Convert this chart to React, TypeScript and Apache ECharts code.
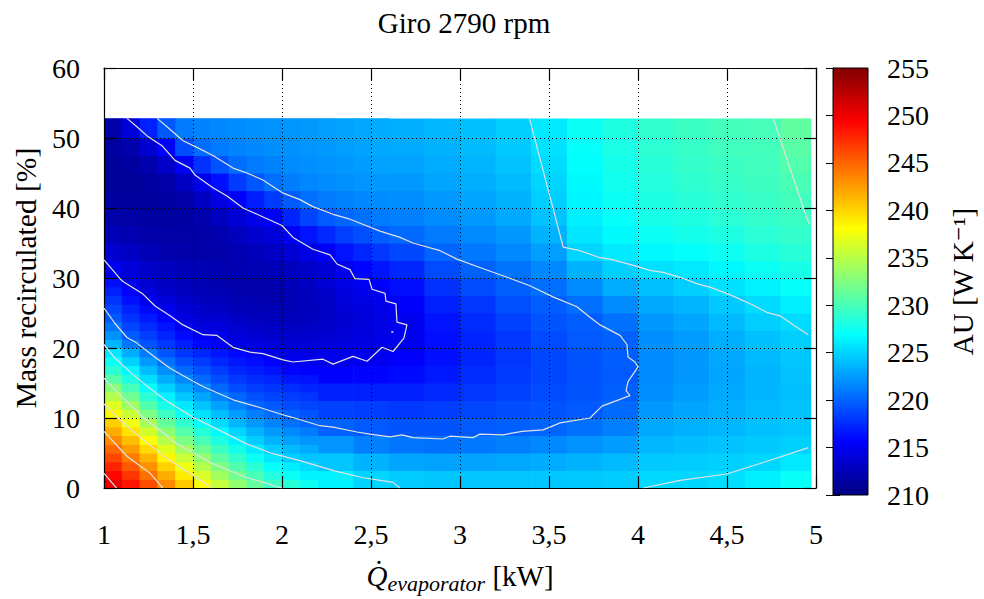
import React, { useEffect, useRef } from 'react';
import * as echarts from 'echarts';

const FONT = '"Liberation Serif", "DejaVu Serif", serif';

const titleText = 'Giro 2790 rpm';
const yName = 'Mass recirculated [%]';
const cbName = 'AU [W K\u207B\u00B9]';

// ---- base grid (coarse) ----
const xEdges = [1.0, 1.2, 1.4, 1.6, 1.8, 2.0, 2.2, 2.4, 2.6, 2.8, 3.0, 3.2, 3.4, 3.6, 3.8, 4.0, 4.2, 4.4, 4.6, 4.8, 4.97];
const yEdges = [0, 2.5, 5, 7.5, 10, 12.5, 15, 17.5, 20, 22.5, 25, 27.5, 30, 32.5, 35, 37.5, 40, 42.5, 45, 47.5, 50, 52.8];
// AU values, one array per column (bottom to top)
const auColumns = [
  [248, 245, 242, 239, 235.5, 232, 228, 223.6, 220.8, 218.7, 217.2, 215.8, 214.1, 213.1, 212.3, 211.8, 211.5, 211.5, 211.8, 212.3, 213.5],
  [243, 239, 235.5, 232, 228.5, 225.5, 222.2, 219.8, 218.2, 216.5, 214.8, 213.6, 212.7, 212.1, 211.8, 211.8, 212.1, 212.7, 213.6, 214.8, 218.3],
  [237, 233, 229.5, 226.5, 224.5, 221.5, 219.3, 217.5, 215.8, 214.5, 213.4, 212.6, 212.1, 211.9, 212.0, 212.4, 213.1, 214.2, 215.7, 219.7, 221.3],
  [234, 230.5, 227, 224.4, 221.6, 219.4, 217.8, 216.2, 214.7, 213.6, 212.8, 212.3, 212.0, 212.0, 212.4, 213.3, 214.8, 217.0, 220.1, 221.4, 221.8],
  [231, 227.2, 224.4, 222, 220, 218.3, 216.6, 215.2, 214.0, 213.1, 212.5, 212.2, 212.2, 212.6, 213.6, 215.0, 217.5, 219.9, 221.2, 221.8, 222.0],
  [228.3, 225.1, 223.0, 220.8, 219.2, 217.6, 216.0, 214.6, 213.6, 212.9, 212.5, 212.4, 212.8, 213.8, 215.7, 218.2, 220.0, 221.2, 221.8, 222.1, 222.3],
  [226.3, 224.3, 222.2, 219.9, 218.5, 217.0, 215.6, 214.7, 214.0, 213.6, 213.5, 213.8, 214.6, 216.1, 218.2, 219.9, 221.0, 221.8, 222.2, 222.5, 222.7],
  [225.0, 223.5, 221.2, 219.6, 218.3, 217.0, 215.8, 214.9, 214.3, 214.0, 214.2, 214.9, 216.0, 217.5, 219.4, 220.6, 221.5, 222.1, 222.5, 222.8, 223.0],
  [224.6, 222.9, 220.8, 219.3, 218.1, 217.0, 216.0, 215.4, 215.0, 215.0, 215.4, 216.2, 217.3, 218.8, 220.3, 221.2, 221.9, 222.4, 222.8, 223.1, 223.3],
  [224.4, 222.7, 220.6, 219.3, 218.3, 217.4, 216.7, 216.3, 216.2, 216.4, 217.0, 217.8, 218.9, 220.0, 221.0, 221.8, 222.4, 222.9, 223.2, 223.5, 223.7],
  [224.3, 222.8, 220.9, 219.6, 218.7, 218.0, 217.5, 217.2, 217.2, 217.5, 218.0, 218.9, 219.9, 220.9, 221.7, 222.4, 222.9, 223.3, 223.6, 223.9, 224.1],
  [224.3, 223.0, 221.2, 219.8, 219.0, 218.5, 218.2, 218.0, 218.1, 218.5, 219.1, 219.8, 220.7, 221.6, 222.3, 223.0, 223.5, 223.9, 224.2, 224.5, 224.7],
  [224.4, 223.2, 221.6, 220.0, 219.3, 218.9, 218.7, 218.7, 218.9, 219.3, 219.7, 220.5, 221.6, 222.6, 223.5, 224.2, 224.7, 225.0, 225.3, 225.6, 225.9],
  [224.5, 223.5, 222.1, 220.6, 219.6, 219.3, 219.2, 219.3, 219.6, 219.7, 220.5, 221.8, 223.5, 225.0, 225.8, 226.2, 226.5, 226.7, 226.9, 227.1, 227.3],
  [224.6, 223.8, 222.5, 221.2, 220.3, 219.8, 219.6, 219.7, 219.9, 220.6, 221.8, 223.2, 224.8, 226.0, 226.7, 227.1, 227.4, 227.6, 227.8, 228.0, 228.2],
  [225.2, 224.5, 223.7, 223.0, 222.4, 221.9, 221.7, 221.7, 221.9, 222.3, 223.0, 224.1, 225.5, 226.6, 227.3, 227.8, 228.1, 228.4, 228.6, 228.8, 229.0],
  [225.1, 224.6, 224.0, 223.4, 222.9, 222.5, 222.3, 222.3, 222.5, 222.9, 223.6, 224.7, 225.9, 227.0, 227.7, 228.2, 228.6, 228.9, 229.1, 229.3, 229.5],
  [225.4, 224.8, 224.2, 223.7, 223.3, 223.0, 222.9, 223.0, 223.3, 223.8, 224.5, 225.5, 226.6, 227.5, 228.2, 228.7, 229.0, 229.3, 229.5, 229.7, 229.8],
  [226.2, 225.1, 224.5, 224.1, 223.8, 223.6, 223.6, 223.8, 224.1, 224.7, 225.3, 226.3, 227.3, 228.1, 228.7, 229.1, 229.4, 229.6, 229.7, 229.8, 229.9],
  [227.2, 225.9, 224.8, 224.4, 224.2, 224.1, 224.2, 224.4, 224.7, 225.3, 226.2, 227.1, 227.9, 228.6, 229.1, 229.5, 229.8, 230.1, 230.5, 230.8, 231.1],
];

// ---- finer patch, lower-left corner ----
const lowXEdges = [1.0, 1.1, 1.2, 1.3, 1.4, 1.5, 1.6, 1.7, 1.8, 1.9, 2.0, 2.1, 2.2];
const lowYEdges = [0, 1.25, 2.5, 3.75, 5, 6.25, 7.5, 8.75, 10, 11.25, 12.5, 13.75, 15, 16.25, 17.5, 18.75, 20];
const lowColumns = [
  [250.5, 249.2, 247.8, 246.3, 244.8, 243.3, 241.8, 240.2, 238.5, 236.7, 234.8, 232.8, 230.7, 228.9, 227.3, 225.8],
  [248.5, 247.0, 245.5, 244.0, 242.5, 241.0, 239.3, 237.6, 235.8, 233.8, 231.8, 230.0, 228.2, 226.5, 224.9, 223.2],
  [246.0, 244.5, 243.0, 241.4, 239.8, 238.0, 236.1, 234.2, 232.3, 230.5, 228.7, 227.0, 225.4, 223.9, 222.4, 221.0],
  [243.2, 241.7, 240.1, 238.5, 236.7, 234.9, 233.0, 231.2, 229.5, 227.9, 226.3, 224.8, 223.3, 221.9, 220.6, 219.3],
  [240.5, 239.0, 237.4, 235.7, 234.0, 232.3, 230.6, 229.0, 227.4, 225.9, 224.4, 223.0, 221.6, 220.3, 219.1, 218.0],
  [237.9, 236.4, 234.8, 233.2, 231.6, 230.0, 228.5, 227.0, 225.6, 224.2, 222.9, 221.5, 220.3, 219.2, 218.2, 217.3],
  [235.5, 234.0, 232.5, 231.0, 229.5, 228.1, 226.7, 225.3, 224.0, 222.7, 221.4, 220.2, 219.1, 218.2, 217.3, 216.5],
  [233.3, 231.9, 230.5, 229.1, 227.7, 226.3, 225.0, 223.7, 222.5, 221.3, 220.1, 219.0, 218.1, 217.3, 216.6, 215.9],
  [231.3, 230.0, 228.7, 227.3, 226.0, 224.7, 223.5, 222.3, 221.2, 220.1, 219.2, 218.3, 217.5, 216.8, 216.1, 215.3],
  [229.6, 228.3, 227.1, 225.8, 224.6, 223.5, 222.4, 221.4, 220.4, 219.5, 218.6, 217.9, 217.2, 216.4, 215.5, 214.8],
  [228.6, 227.3, 226.1, 224.8, 223.8, 222.7, 221.7, 220.6, 219.8, 219.0, 218.3, 217.6, 216.6, 215.8, 215.0, 214.4],
  [227.5, 226.4, 225.3, 224.3, 223.2, 222.2, 221.1, 220.0, 219.3, 218.6, 217.9, 217.2, 216.4, 215.6, 215.0, 214.4],
];

// ---- finer patch, left middle band ----
const midXEdges = [1.0, 1.1, 1.2, 1.3, 1.4, 1.5, 1.6, 1.7, 1.8, 1.9, 2.0, 2.1, 2.2, 2.3, 2.4, 2.5, 2.6];
const midYEdges = [20, 21.25, 22.5, 23.75, 25, 26.25, 27.5, 28.75, 30];
const midColumns = [
  [223.6, 222.1, 220.7, 219.5, 218.7, 217.9, 217.0, 216.2],
  [220.8, 219.6, 218.6, 217.8, 217.1, 216.3, 215.5, 214.7],
  [219.2, 218.3, 217.5, 216.7, 215.9, 215.0, 214.2, 213.6],
  [218.0, 217.2, 216.4, 215.5, 214.7, 214.0, 213.4, 213.0],
  [216.9, 216.0, 215.1, 214.4, 213.8, 213.3, 212.9, 212.6],
  [215.9, 215.0, 214.3, 213.7, 213.2, 212.8, 212.5, 212.3],
  [215.5, 214.8, 214.1, 213.5, 213.0, 212.6, 212.3, 212.1],
  [214.6, 214.0, 213.5, 213.0, 212.6, 212.3, 212.1, 212.0],
  [214.3, 213.7, 213.2, 212.8, 212.5, 212.2, 212.0, 212.0],
  [214.0, 213.4, 213.0, 212.6, 212.3, 212.1, 212.0, 212.1],
  [213.8, 213.3, 212.9, 212.6, 212.4, 212.3, 212.3, 212.5],
  [213.9, 213.4, 213.0, 212.8, 212.7, 212.7, 212.8, 213.0],
  [214.0, 213.6, 213.3, 213.1, 213.1, 213.2, 213.4, 213.8],
  [214.2, 213.9, 213.7, 213.6, 213.7, 213.9, 214.2, 214.5],
  [214.4, 214.2, 214.1, 214.1, 214.2, 214.4, 214.7, 215.1],
  [214.7, 214.5, 214.4, 214.4, 214.5, 214.8, 215.1, 215.6],
];

// ---- finer patch, upper-left band ----
const upXEdges = [1.0, 1.1, 1.2, 1.3, 1.4, 1.5, 1.6, 1.7, 1.8, 1.9, 2.0, 2.1, 2.2, 2.3, 2.4, 2.5, 2.6];
const upYEdges = [30, 32.5, 35, 37.5, 40, 42.5, 45, 47.5, 50, 52.8];
const upColumns = [
  [215.0, 213.5, 212.5, 211.8, 211.4, 211.2, 211.2, 211.4, 211.8],
  [214.0, 213.0, 212.2, 211.6, 211.3, 211.2, 211.4, 212.0, 214.0],
  [213.3, 212.5, 211.9, 211.5, 211.3, 211.4, 212.0, 213.6, 217.0],
  [212.8, 212.1, 211.7, 211.4, 211.4, 211.9, 213.2, 215.7, 219.5],
  [212.5, 211.9, 211.6, 211.5, 211.9, 213.0, 215.2, 219.0, 221.0],
  [212.3, 211.9, 211.7, 212.0, 213.0, 214.7, 217.8, 220.4, 221.4],
  [212.2, 211.9, 212.1, 212.8, 214.3, 216.3, 219.3, 221.0, 221.6],
  [212.2, 212.2, 212.7, 213.8, 215.5, 218.2, 220.5, 221.4, 221.8],
  [212.3, 212.6, 213.5, 214.7, 216.9, 219.4, 221.0, 221.6, 222.0],
  [212.5, 213.1, 214.0, 215.6, 218.2, 220.5, 221.4, 221.9, 222.1],
  [212.8, 213.7, 215.1, 217.2, 219.6, 221.1, 221.7, 222.0, 222.2],
  [213.2, 214.5, 216.4, 218.6, 220.5, 221.5, 221.9, 222.2, 222.4],
  [213.8, 215.3, 217.4, 219.6, 221.0, 221.8, 222.1, 222.4, 222.6],
  [214.8, 216.4, 218.4, 220.1, 221.3, 222.0, 222.3, 222.6, 222.8],
  [215.8, 217.3, 219.1, 220.6, 221.6, 222.2, 222.5, 222.8, 223.0],
  [216.5, 218.0, 219.7, 221.0, 221.8, 222.4, 222.7, 223.0, 223.2],
];

// ---- contour lines (x kW, y %) ----
const c215 = [[1.129, 52.8], [1.185, 51.6], [1.247, 50.2], [1.326, 48.9], [1.399, 46.8], [1.483, 45.7], [1.511, 44.7], [1.612, 42.9], [1.691, 41.7], [1.781, 40.0], [1.86, 39.1], [2.0, 37.5], [2.062, 35.8], [2.174, 34.1], [2.27, 33.3], [2.309, 32.0], [2.382, 31.2], [2.41, 29.9], [2.489, 29.8], [2.506, 28.4], [2.579, 27.8], [2.584, 26.7], [2.64, 26.3], [2.646, 23.7], [2.702, 23.3], [2.685, 21.4], [2.624, 19.5], [2.562, 20.1], [2.478, 18.1], [2.399, 18.8], [2.287, 17.7], [2.23, 18.4], [2.062, 18.0], [2.006, 18.3], [1.893, 19.2], [1.82, 19.4], [1.725, 20.1], [1.635, 21.8], [1.556, 21.9], [1.444, 23.3], [1.371, 24.6], [1.287, 26.0], [1.219, 27.7], [1.107, 29.5], [1.09, 29.9], [1.0, 32.6]];
const c215Dot = [[2.62, 22.3]];
const c220 = [[1.298, 52.8], [1.354, 51.6], [1.444, 49.6], [1.511, 48.8], [1.612, 47.5], [1.725, 45.7], [1.803, 45.0], [1.893, 44.0], [2.0, 42.2], [2.101, 41.2], [2.174, 40.2], [2.287, 39.1], [2.382, 38.4], [2.551, 36.7], [2.663, 35.8], [2.736, 35.0], [2.888, 33.9], [2.983, 32.7], [3.112, 31.5], [3.264, 30.1], [3.393, 28.9], [3.522, 27.3], [3.657, 25.9], [3.73, 24.4], [3.787, 23.3], [3.899, 21.8], [3.938, 20.5], [3.944, 18.7], [3.983, 18.0], [4.0, 17.3], [3.944, 15.2], [3.933, 13.9], [3.955, 13.2], [3.798, 11.7], [3.73, 10.0], [3.562, 9.3], [3.506, 8.7], [3.466, 8.3], [3.348, 8.1], [3.242, 7.6], [3.112, 7.7], [3.073, 7.2], [2.944, 7.4], [2.904, 7.0], [2.736, 7.2], [2.674, 7.6], [2.607, 7.3], [2.494, 7.7], [2.421, 8.0], [2.287, 8.7], [2.213, 8.9], [2.056, 10.1], [2.0, 10.5], [1.876, 11.5], [1.725, 12.6], [1.68, 13.1], [1.556, 14.5], [1.483, 15.5], [1.371, 17.1], [1.27, 19.0], [1.185, 20.7], [1.129, 21.5], [1.062, 23.5], [1.0, 25.7]];
const c225Top = [[3.39, 52.8], [3.58, 34.4], [3.674, 33.9], [3.787, 32.9], [3.843, 32.7], [3.974, 31.8], [4.067, 31.1], [4.142, 30.8], [4.236, 30.1], [4.33, 29.2], [4.404, 28.7], [4.498, 27.8], [4.554, 27.2], [4.648, 26.1], [4.723, 25.1], [4.798, 24.6], [4.873, 23.3], [4.957, 21.9]];
const c225Left = [[1.0, 20.5], [1.06, 18.6], [1.163, 16.2], [1.25, 14.4], [1.354, 12.4], [1.5, 10.1], [1.691, 7.7], [1.8, 6.3], [1.949, 4.9], [2.1, 3.9], [2.3, 2.4], [2.45, 1.5], [2.551, 1.1], [2.624, 0.8], [2.663, 0]];
const c225Bottom = [[4.03, 0], [4.236, 1.08], [4.498, 2.0], [4.704, 3.65], [4.957, 5.76]];
const c230Top = [[4.76, 52.8], [4.798, 49.9], [4.948, 38.6], [4.965, 37.7]];
const c230Left = [[1.0, 15.7], [1.09, 13.3], [1.22, 10.1], [1.4, 6.5], [1.6, 3.6], [1.8, 1.5], [2.0, 0]];
const c235 = [[1.0, 12.0], [1.1, 9.5], [1.2, 7.3], [1.35, 4.3], [1.5, 1.8], [1.61, 0]];
const c240 = [[1.0, 8.1], [1.13, 4.5], [1.26, 2.1], [1.33, 0]];
const c245 = [[1.0, 2.1], [1.06, 0.3], [1.07, 0]];
const contours = [c215, c220, c225Top, c225Left, c225Bottom, c230Top, c230Left, c235, c240, c245];

const jet = ['#000080', '#0000ff', '#0080ff', '#00ffff', '#80ff80', '#ffff00', '#ff8000', '#ff0000', '#800000'];
const auMin = 210;
const auMax = 255;

const fmt = (v: number) => String(v).replace('.', ',');

function cells(xs: number[], ys: number[], cols: number[][]) {
  const out: number[][] = [];
  cols.forEach((col, i) => col.forEach((v, j) => out.push([xs[i], xs[i + 1], ys[j], ys[j + 1], v])));
  return out;
}

export default function App() {
  const ref = useRef<HTMLDivElement>(null);
  useEffect(() => {
    if (!ref.current) return;
    const chart = echarts.init(ref.current, null, { renderer: 'svg' });
    const heatData = [
      ...cells(xEdges, yEdges, auColumns),
      ...cells(lowXEdges, lowYEdges, lowColumns),
      ...cells(midXEdges, midYEdges, midColumns),
      ...cells(upXEdges, upYEdges, upColumns),
    ];
    const tickLabel = { fontFamily: FONT, fontSize: 28, color: '#000' };
    const borderLine = { show: true, onZero: false, lineStyle: { color: '#000', width: 1.2 } };
    const tick = { inside: true, length: 12, lineStyle: { color: '#000', width: 1.2 } };
    const grid = { show: true, lineStyle: { color: '#000', width: 1, type: [1, 3] } };
    const contourStyle = { color: '#e2e2e2', width: 1.2 };
    const option: any = {
      animation: false,
      backgroundColor: '#fff',
      title: {
        text: titleText,
        left: 459,
        top: 3,
        textAlign: 'center',
        textStyle: { fontFamily: FONT, fontSize: 29, fontWeight: 'normal', color: '#000' },
      },
      grid: [
        { left: 104, top: 68, width: 712, height: 427 },
        { left: 833, top: 68, width: 35, height: 427 },
      ],
      xAxis: [
        {
          gridIndex: 0, type: 'value', min: 1, max: 5, interval: 0.5, position: 'bottom',
          axisLine: borderLine,
          axisTick: tick,
          axisLabel: { ...tickLabel, margin: 32, formatter: fmt },
          splitLine: grid,
          name: '{q|Q\u0307}{sub|evaporator}{n| [kW]}',
          nameLocation: 'middle',
          nameGap: 70,
          nameTextStyle: {
            rich: {
              q: { fontFamily: FONT, fontSize: 29, fontStyle: 'italic', color: '#000' },
              sub: { fontFamily: FONT, fontSize: 22, fontStyle: 'italic', color: '#000', padding: [14, 0, 0, 0] },
              n: { fontFamily: FONT, fontSize: 29, color: '#000' },
            },
          },
        },
        {
          gridIndex: 0, type: 'value', min: 1, max: 5, interval: 0.5, position: 'top',
          axisLine: borderLine,
          axisTick: tick,
          axisLabel: { show: false },
          splitLine: { show: false },
        },
        { gridIndex: 1, type: 'value', min: 0, max: 1, show: false },
      ],
      yAxis: [
        {
          gridIndex: 0, type: 'value', min: 0, max: 60, interval: 10, position: 'left',
          axisLine: borderLine,
          axisTick: tick,
          axisLabel: { ...tickLabel, margin: 24 },
          splitLine: grid,
          name: yName,
          nameLocation: 'middle',
          nameGap: 62,
          nameTextStyle: { fontFamily: FONT, fontSize: 29.5, color: '#000' },
        },
        {
          gridIndex: 0, type: 'value', min: 0, max: 60, interval: 10, position: 'right',
          axisLine: borderLine,
          axisTick: tick,
          axisLabel: { show: false },
          splitLine: { show: false },
        },
        {
          gridIndex: 1, type: 'value', min: auMin, max: auMax, interval: 5, position: 'right',
          axisLine: { show: true, lineStyle: { color: '#000', width: 1 } },
          axisTick: { inside: true, length: 7, lineStyle: { color: '#000', width: 1 } },
          axisLabel: { ...tickLabel, margin: 19 },
          splitLine: { show: false },
          name: cbName,
          nameLocation: 'middle',
          nameRotate: 90,
          nameGap: 80,
          nameTextStyle: { fontFamily: FONT, fontSize: 29, color: '#000' },
        },
        {
          gridIndex: 1, type: 'value', min: auMin, max: auMax, interval: 5, position: 'left',
          axisLine: { show: true, lineStyle: { color: '#000', width: 1 } },
          axisTick: { inside: true, length: 7, lineStyle: { color: '#000', width: 1 } },
          axisLabel: { show: false },
          splitLine: { show: false },
        },
      ],
      visualMap: {
        show: false, type: 'continuous', min: auMin, max: auMax, dimension: 4, seriesIndex: 0,
        inRange: { color: jet },
      },
      series: [
        {
          type: 'custom',
          xAxisIndex: 0,
          yAxisIndex: 0,
          z: -1,
          silent: true,
          encode: { x: [0, 1], y: [2, 3] },
          data: heatData,
          renderItem: (params: any, api: any) => {
            const p0 = api.coord([api.value(0), api.value(3)]);
            const p1 = api.coord([api.value(1), api.value(2)]);
            return {
              type: 'rect',
              shape: { x: p0[0], y: p0[1], width: p1[0] - p0[0] + 0.6, height: p1[1] - p0[1] + 0.6 },
              style: { fill: api.visual('color'), stroke: null },
            };
          },
        },
        ...contours.map((c) => ({
          type: 'line',
          xAxisIndex: 0,
          yAxisIndex: 0,
          data: c,
          symbol: 'none',
          silent: true,
          z: 3,
          lineStyle: contourStyle,
        })),
        {
          type: 'scatter',
          xAxisIndex: 0,
          yAxisIndex: 0,
          data: c215Dot,
          symbol: 'rect',
          symbolSize: 2,
          silent: true,
          z: 3,
          itemStyle: { color: '#e8e8e8' },
        },
        {
          type: 'custom',
          xAxisIndex: 2,
          yAxisIndex: 2,
          silent: true,
          z: 1,
          data: [[0, auMin, 1, auMax]],
          renderItem: (params: any, api: any) => {
            const p0 = api.coord([api.value(0), api.value(3)]);
            const p1 = api.coord([api.value(2), api.value(1)]);
            return {
              type: 'rect',
              shape: { x: p0[0], y: p0[1], width: p1[0] - p0[0], height: p1[1] - p0[1] },
              style: {
                fill: new echarts.graphic.LinearGradient(0, 1, 0, 0,
                  jet.map((color, i) => ({ offset: i / (jet.length - 1), color }))),
                stroke: '#000',
                lineWidth: 1,
              },
            };
          },
        },
      ],
    };
    chart.setOption(option);
    return () => chart.dispose();
  }, []);
  return <div ref={ref} style={{ position: 'absolute', left: 0, top: 0, width: 984, height: 599 }} />;
}
